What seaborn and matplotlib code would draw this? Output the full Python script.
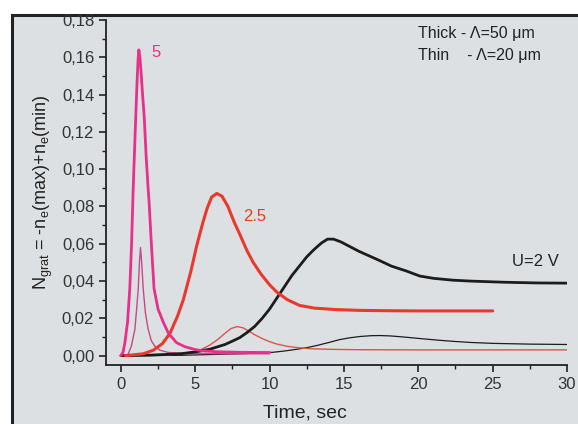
import matplotlib
matplotlib.use("Agg")
import matplotlib.pyplot as plt
import matplotlib.ticker as mticker
from matplotlib.patches import Rectangle
import seaborn as sns

# ── Data (time in s, N_grat) ─────────────────────────────────────────────────
t_u5_thick = [0.0, 0.15, 0.27, 0.45, 0.6, 0.72, 0.83, 0.92, 1.0, 1.08, 1.15, 1.21,
              1.28, 1.36, 1.45, 1.57, 1.7, 1.83, 1.9, 2.05, 2.23, 2.5, 2.85, 3.2,
              3.74, 4.3, 5.0, 5.5, 6.5, 8.0, 10.0]
n_u5_thick = [0.0, 0.002, 0.007, 0.018, 0.036, 0.06, 0.09, 0.11, 0.128, 0.145,
              0.158, 0.164, 0.16, 0.152, 0.141, 0.128, 0.107, 0.09, 0.082, 0.060,
              0.036, 0.025, 0.018, 0.012, 0.007, 0.0048, 0.0033, 0.0026, 0.0021,
              0.0018, 0.0017]

t_u5_thin = [0.3, 0.5, 0.7, 0.94, 1.05, 1.17, 1.25, 1.32, 1.4, 1.5, 1.65, 1.84,
             2.05, 2.29, 2.6, 3.2, 4.5, 7.0, 10.0]
n_u5_thin = [0.0, 0.001, 0.005, 0.014, 0.024, 0.036, 0.05, 0.058, 0.05, 0.036,
             0.023, 0.014, 0.008, 0.005, 0.003, 0.0017, 0.0012, 0.001, 0.001]

t_u25_thick = [0.3, 1.5, 2.2, 2.8, 3.3, 3.8, 4.2, 4.7, 5.1, 5.5, 5.8, 6.1, 6.45, 6.8,
               7.2, 7.6, 8.0, 8.5, 8.9, 9.4, 10.0, 10.5, 11.2, 12.0, 13.0, 14.5, 16.0,
               18.0, 20.0, 22.0, 25.0]
n_u25_thick = [0.0, 0.001, 0.003, 0.0065, 0.012, 0.021, 0.030, 0.045, 0.059, 0.071,
               0.079, 0.085, 0.087, 0.0855, 0.080, 0.072, 0.065, 0.056, 0.050, 0.044,
               0.038, 0.034, 0.030, 0.027, 0.0255, 0.0247, 0.0243, 0.0241, 0.024,
               0.024, 0.024]

t_u25_thin = [0.3, 3.0, 4.0, 5.0, 5.5, 6.0, 6.5, 7.0, 7.4, 7.8, 8.2, 8.6, 9.0, 9.5,
              10.0, 10.5, 11.2, 12.0, 12.8, 14.0, 16.0, 20.0, 25.0, 30.0]
n_u25_thin = [0.0, 0.0003, 0.001, 0.0022, 0.0037, 0.0058, 0.0086, 0.012, 0.0145,
              0.0156, 0.015, 0.0132, 0.0112, 0.0092, 0.0075, 0.0062, 0.005, 0.0042,
              0.0037, 0.0034, 0.0032, 0.0031, 0.0031, 0.0031]

t_u2_thick = [0.0, 2.0, 4.0, 5.0, 6.0, 7.0, 7.5, 8.0, 8.5, 9.0, 9.5, 10.0, 10.5,
              11.0, 11.5, 12.0, 12.5, 13.0, 13.5, 13.9, 14.3, 14.8, 15.4, 16.0, 16.7,
              17.4, 18.2, 19.2, 20.1, 21.0, 22.3, 23.5, 25.7, 28.0, 30.0]
n_u2_thick = [0.0, 0.0003, 0.001, 0.002, 0.0035, 0.006, 0.0078, 0.0097, 0.0125,
              0.0157, 0.020, 0.025, 0.031, 0.037, 0.043, 0.048, 0.053, 0.057, 0.0605,
              0.0625, 0.0625, 0.061, 0.0585, 0.056, 0.0535, 0.051, 0.048, 0.0454,
              0.0427, 0.0415, 0.0405, 0.040, 0.0394, 0.039, 0.0389]

t_u2_thin = [0.0, 4.0, 7.0, 9.0, 10.2, 11.0, 11.8, 12.5, 13.2, 14.0, 14.7, 15.4,
             16.1, 16.8, 17.4, 18.1, 18.9, 19.7, 20.5, 21.5, 22.5, 23.5, 25.0, 27.5, 30.0]
n_u2_thin = [0.0, 0.0002, 0.0008, 0.0013, 0.0018, 0.0025, 0.0034, 0.0043, 0.0055,
             0.0071, 0.0086, 0.0096, 0.0103, 0.0107, 0.0108, 0.0106, 0.0101, 0.0095,
             0.0089, 0.0082, 0.0076, 0.0071, 0.0066, 0.0062, 0.0060]

BG = "#dde0e3"
MAGENTA = "#e6308a"
MAGENTA_THIN = "#c24a86"
RED = "#e8392c"
RED_THIN = "#d9544a"
BLACK = "#1c1c1c"

sns.set_theme(style="ticks")
plt.rcParams["font.family"] = ["Liberation Sans", "DejaVu Sans"]
plt.rcParams["mathtext.default"] = "regular"

fig = plt.figure(figsize=(5.78, 4.24), dpi=100, facecolor="white")
# grey panel with dark frame, as in the scanned figure
fig.patches.append(Rectangle((12 / 578, -0.05), 1.0, 1 - 15 / 424 + 0.05,
                             transform=fig.transFigure, facecolor=BG,
                             edgecolor="#222222", linewidth=2.2, zorder=-10))
ax = fig.add_axes([106 / 578, 1 - 365 / 424, (567 - 106) / 578, (365 - 20) / 424])
ax.set_facecolor("none")

# thin lines (Λ=20 µm) underneath, thick (Λ=50 µm) on top
sns.lineplot(x=t_u2_thin, y=n_u2_thin, ax=ax, color=BLACK, lw=0.9, sort=False)
sns.lineplot(x=t_u25_thin, y=n_u25_thin, ax=ax, color=RED_THIN, lw=1.0, sort=False)
sns.lineplot(x=t_u5_thin, y=n_u5_thin, ax=ax, color=MAGENTA_THIN, lw=1.0, sort=False)
sns.lineplot(x=t_u2_thick, y=n_u2_thick, ax=ax, color=BLACK, lw=2.0, sort=False)
sns.lineplot(x=t_u25_thick, y=n_u25_thick, ax=ax, color=RED, lw=2.2, sort=False)
sns.lineplot(x=t_u5_thick, y=n_u5_thick, ax=ax, color=MAGENTA, lw=2.0, sort=False)

ax.set_xlim(-1, 30)
ax.set_ylim(-0.005, 0.18)
ax.xaxis.set_major_locator(mticker.MultipleLocator(5))
ax.xaxis.set_minor_locator(mticker.MultipleLocator(2.5))
ax.yaxis.set_major_locator(mticker.MultipleLocator(0.02))
ax.yaxis.set_minor_locator(mticker.MultipleLocator(0.01))
ax.yaxis.set_major_formatter(mticker.FuncFormatter(lambda v, p: f"{v:.2f}".replace(".", ",")))

sns.despine(ax=ax)
for s in ("left", "bottom"):
    ax.spines[s].set_color("#222222")
    ax.spines[s].set_linewidth(1.3)
ax.tick_params(which="major", direction="out", length=5, width=1.2, colors="#222222",
               labelsize=12, labelcolor="#333333")
ax.tick_params(which="minor", direction="out", length=3, width=1.0, colors="#222222")

ax.set_xlabel("Time, sec", fontsize=14, color="#222222", labelpad=11)
ax.xaxis.set_label_coords(0.432, -0.115)
ax.set_ylabel(r"N$_{grat}$ = -n$_e$(max)+n$_e$(min)", fontsize=13, color="#222222", labelpad=5)

ax.text(2.02, 0.1625, "5", color=MAGENTA, fontsize=12, va="center", ha="left")
ax.text(8.2, 0.0746, "2.5", color=RED, fontsize=12, va="center", ha="left")
ax.text(26.3, 0.0505, "U=2 V", color="#222222", fontsize=12, va="center", ha="left")
ax.text(20.0, 0.173, "Thick - \u039b=50 \u03bcm", color="#222222", fontsize=11.5, va="center")
ax.text(20.0, 0.161, "Thin    - \u039b=20 \u03bcm", color="#222222", fontsize=11.5, va="center")

fig.savefig("out.png", dpi=100, facecolor=fig.get_facecolor())
